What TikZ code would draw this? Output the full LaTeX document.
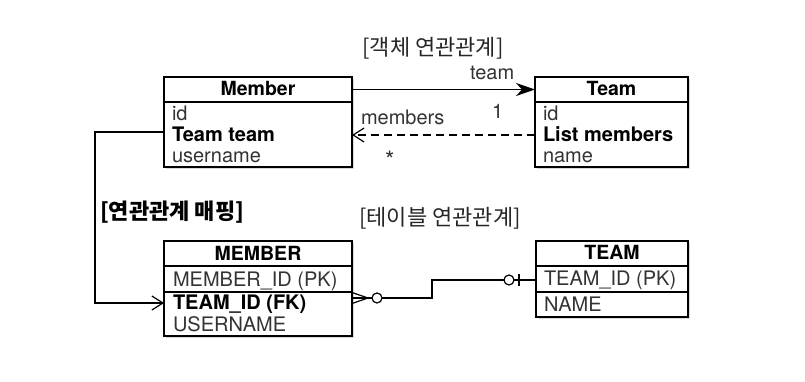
\documentclass[tikz,border=0pt]{standalone}
\usepackage{fontspec}
\setmainfont{TeX Gyre Heros}
\newfontfamily\kr{Noto Sans CJK KR}
\usetikzlibrary{arrows.meta,shadows}
\begin{document}
\begin{tikzpicture}[x=1pt,y=-1pt,
  every node/.style={inner sep=0pt, outer sep=0pt},
  txt/.style={font=\fontsize{20}{22}\selectfont, text=black!80, anchor=base west},
  btxt/.style={font=\fontsize{20}{22}\selectfont\bfseries, text=black, anchor=base west},
  hdr/.style={font=\fontsize{19.5}{22}\selectfont\bfseries, anchor=base},
  tbl/.style={draw, line width=1.3pt, fill=white, anchor=north west,
    drop shadow={shadow xshift=1.5pt, shadow yshift=-2pt, opacity=0.3}},
  part/.style={draw, line width=1.3pt, anchor=north west},
  conn/.style={line width=1.2pt},
  krtitle/.style={font=\kr\fontsize{22}{24}\selectfont, text=black!85},
  krbold/.style={font=\kr\bfseries\fontsize{22}{24}\selectfont},
  barb/.style={-{Straight Barb[length=11pt,width=14pt]}},
]
\useasboundingbox (0,0) rectangle (805,382);

% ---------- Member (object)
\node[tbl, minimum width=188pt, minimum height=90pt] (memTbl) at (164,77) {};
\node[part, minimum width=188pt, minimum height=25pt] (memH) at (164,77) {};
\node[part, minimum width=188pt, minimum height=65pt] (memB) at (164,102) {};
\node[hdr] (memT) at (258,96) {Member};
\node[txt] (memA) at (172,121) {id};
\node[btxt] (memC) at (172,142) {Team team};
\node[txt] (memD) at (172,163) {username};

% ---------- Team (object)
\node[tbl, minimum width=153pt, minimum height=90pt] (teamTbl) at (535,77) {};
\node[part, minimum width=153pt, minimum height=25pt] (teamH) at (535,77) {};
\node[part, minimum width=153pt, minimum height=65pt] (teamB) at (535,102) {};
\node[hdr] (teamT) at (611.5,96) {Team};
\node[txt] (teamA) at (543,121) {id};
\node[btxt] (teamC) at (543,142) {List members};
\node[txt] (teamD) at (543,163) {name};

% ---------- MEMBER (table)
\node[tbl, minimum width=188pt, minimum height=95pt] (MEMTbl) at (164,241) {};
\node[part, minimum width=188pt, minimum height=25pt] (MEMH) at (164,241) {};
\node[part, minimum width=188pt, minimum height=26pt] (MEMpk) at (164,266) {};
\node[part, minimum width=188pt, minimum height=44pt] (MEMlow) at (164,292) {};
\node[hdr] (MEMT) at (258,260) {MEMBER};
\node[txt] (MEMA) at (173,286) {MEMBER\_ID (PK)};
\node[btxt] (MEMC) at (173,309) {TEAM\_ID (FK)};
\node[txt] (MEMD) at (173,331) {USERNAME};

% ---------- TEAM (table)
\node[tbl, minimum width=152pt, minimum height=76pt] (TEAMTbl) at (536,241) {};
\node[part, minimum width=152pt, minimum height=25pt] (TEAMH) at (536,241) {};
\node[part, minimum width=152pt, minimum height=26pt] (TEAMpk) at (536,266) {};
\node[part, minimum width=152pt, minimum height=25pt] (TEAMlow) at (536,292) {};
\node[hdr] (TEAMT) at (612,259) {TEAM};
\node[txt] (TEAMA) at (544,285) {TEAM\_ID (PK)};
\node[txt] (TEAMB) at (544,311) {NAME};

% ---------- titles
\node[krtitle] (title1) at (433,48) {[객체 연관관계]};
\node[krtitle] (title2) at (440,218) {[테이블 연관관계]};
\node[krbold, anchor=west] (title3) at (100,212.5) {[연관관계 매핑]};

% ---------- object associations
\draw[conn, -{Stealth[length=19pt,width=13pt,inset=6pt]}] (memH.east) -- (teamH.west);
\node[txt] (lblTeam) at (470,80) {team};
\node[txt] (lblOne) at (492,119) {1};
\draw[conn, dashed, dash pattern=on 8pt off 5pt, barb]
  ([yshift=-0.5pt]teamB.west) -- ([yshift=-0.5pt]memB.east);
\node[txt] (lblMembers) at (361,125) {members};
\node[txt, font=\fontsize{24}{24}\selectfont] (lblStar) at (385,168) {*};

% ---------- mapping arrow
\draw[conn, barb] ([yshift=2.5pt]memB.west) -- ++(-69,0) |- ([yshift=11pt]MEMlow.west);

% ---------- ER relation
\draw[conn] ([yshift=16pt]MEMlow.east) -- (432,298) -- (432,280) -- ([yshift=-1pt]TEAMpk.west);
\draw[conn] (352,292.5) -- (368,298) -- (352,303.5);
\draw[conn, fill=white] (377,298) circle[radius=5pt];
\draw[conn, fill=white] (509,280) circle[radius=5pt];
\draw[conn] (519,274) -- (519,286);
\end{tikzpicture}
\end{document}
